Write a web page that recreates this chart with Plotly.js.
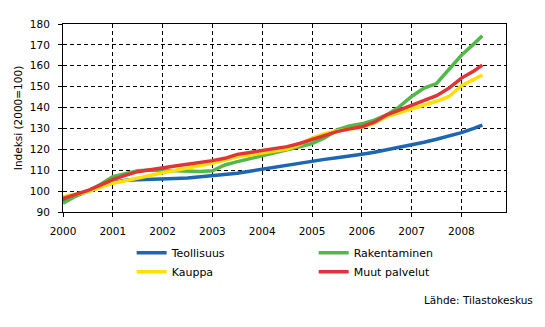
<!DOCTYPE html>
<html>
<head>
<meta charset="utf-8">
<script src="https://cdn.plot.ly/plotly-3.0.1.min.js"></script>
<style>html,body{margin:0;padding:0;background:#fff;}#chart{width:545px;height:327px;}</style>
</head>
<body>
<div id="chart"></div>
<script>
// Quarterly readings (decimal year), index 2000=100
const years = [2000, 2000.25, 2000.5, 2000.75, 2001, 2001.25, 2001.5, 2001.75,
  2002, 2002.25, 2002.5, 2002.75, 2003, 2003.25, 2003.5, 2003.75,
  2004, 2004.25, 2004.5, 2004.75, 2005, 2005.25, 2005.5, 2005.75,
  2006, 2006.25, 2006.5, 2006.75, 2007, 2007.25, 2007.5, 2007.75,
  2008, 2008.25, 2008.42];

const teollisuus = [95.5, 98, 100, 102.3, 104, 105.2, 105.4, 105.5,
  105.7, 106, 106.3, 106.8, 107.4, 108, 108.6, 109.5,
  110.5, 111.5, 112.5, 113.4, 114.3, 115.2, 116, 116.6,
  117.6, 118.6, 119.7, 120.8, 122, 123.4, 124.8, 126.3,
  128, 130, 131.6];

const rakentaminen = [94.2, 97.5, 100, 103.2, 106.9, 108.5, 109.7, 110.1,
  110, 109.5, 109.4, 109.4, 109.7, 112.5, 114.1, 115.5,
  116.8, 118, 119.5, 121.2, 122.8, 125.5, 129.3, 131.2,
  132.2, 134, 136.5, 140.3, 145.3, 149.3, 151.5, 158.5,
  165, 170.5, 174.4];

const kauppa = [97.3, 98.7, 99.7, 101.8, 103.8, 105, 106.1, 107.5,
  108.8, 110, 110.9, 112, 113.3, 114.9, 116.4, 117.3,
  118.2, 119.1, 120.1, 122.3, 125.4, 127.5, 128.8, 129.6,
  130.6, 132.5, 135.7, 137.5, 139.2, 141, 143, 145.3,
  150.5, 153.5, 155.6];

const muutPalvelut = [96.4, 98.5, 100.3, 102.9, 105.5, 107.5, 109.3, 110.2,
  110.9, 112, 112.9, 113.6, 114.6, 115.7, 117.6, 118.5,
  119.4, 120.4, 121.3, 122.8, 124.8, 126.9, 128.5, 129.8,
  130.8, 133, 136.5, 138.8, 141, 143.2, 145.7, 149.3,
  154.1, 157.5, 160.3];

const seriesNames = ["Teollisuus", "Rakentaminen", "Kauppa", "Muut palvelut"];
const xTicks = [2000, 2001, 2002, 2003, 2004, 2005, 2006, 2007, 2008];
const yTicks = [90, 100, 110, 120, 130, 140, 150, 160, 170, 180];

const colors = ["#1c66b2", "#52b847", "#ffe000", "#e03438"];
const values = [teollisuus, rakentaminen, kauppa, muutPalvelut];

const traces = values.map((v, i) => ({
  type: "scatter", mode: "lines", x: years, y: v, name: seriesNames[i],
  line: {color: colors[i], width: 3.5}
}));

const font = {family: "DejaVu Sans, Verdana, sans-serif", size: 10, color: "#000"};

const layout = {
  width: 545, height: 327,
  margin: {l: 63, r: 39, t: 24, b: 115},
  paper_bgcolor: "#fff", plot_bgcolor: "#fff",
  font: font,
  showlegend: true,
  xaxis: {
    range: [2000, 2008.895], tickvals: xTicks, ticktext: xTicks.map(String),
    showgrid: true, gridcolor: "#000", gridwidth: 1, griddash: "4px,3px",
    showline: true, linecolor: "#000", linewidth: 1, mirror: true,
    ticks: "outside", ticklen: 4, tickcolor: "#000", tickfont: {size: 10.5},
    ticklabelstandoff: 5, zeroline: false, fixedrange: true
  },
  yaxis: {
    range: [90, 180], tickvals: yTicks,
    showgrid: true, gridcolor: "#000", gridwidth: 1, griddash: "4px,3px",
    showline: true, linecolor: "#000", linewidth: 1, mirror: true,
    ticks: "outside", ticklen: 4, tickcolor: "#000", tickfont: {size: 10.5},
    ticklabelstandoff: 6, zeroline: false, fixedrange: true,
    title: {text: "Indeksi (2000=100)", font: {size: 10.5}, standoff: 5}
  },
  legend: {
    orientation: "h", x: 0.155, xanchor: "left", y: -0.14, yanchor: "top",
    entrywidth: 137, font: {size: 11}, bgcolor: "rgba(0,0,0,0)", traceorder: "normal"
  },
  annotations: [{
    text: "Lähde: Tilastokeskus", xref: "paper", yref: "paper",
    x: 1.0655, xanchor: "right", y: -0.468, yanchor: "middle",
    showarrow: false, font: {size: 10.5}
  }]
};

Plotly.newPlot("chart", traces, layout, {staticPlot: true, displayModeBar: false});
</script>
</body>
</html>
